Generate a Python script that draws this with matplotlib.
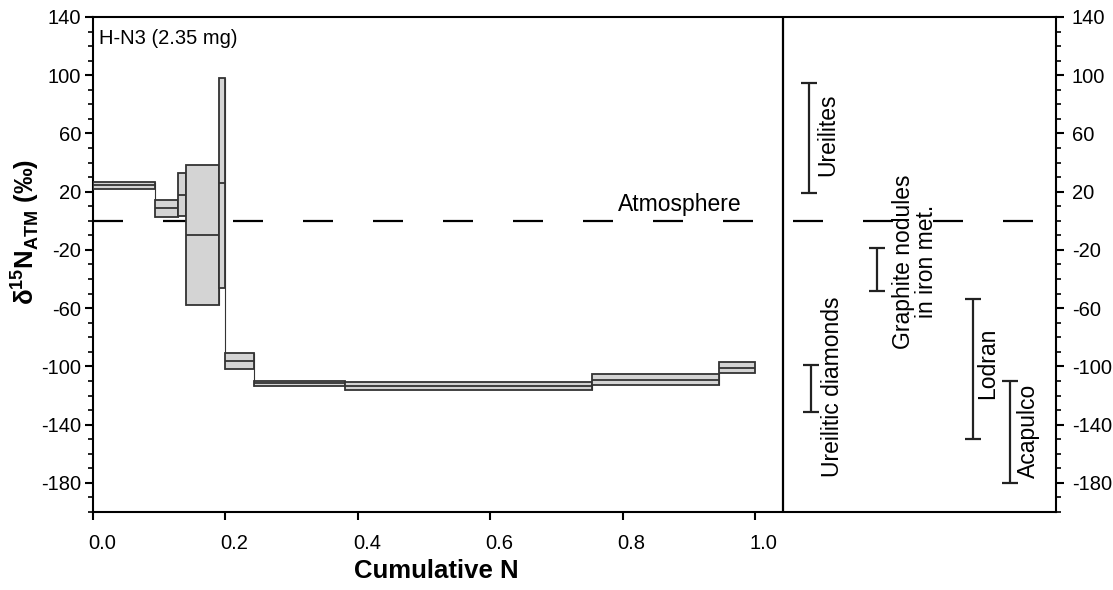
import matplotlib
matplotlib.use('Agg')
import matplotlib.pyplot as plt
import matplotlib.transforms as mtransforms
import numpy as np

plt.rcParams['font.family'] = ['Liberation Sans', 'DejaVu Sans']
plt.rcParams['mathtext.fontset'] = 'custom'
plt.rcParams['mathtext.rm'] = 'Liberation Sans'
plt.rcParams['mathtext.bf'] = 'Liberation Sans:bold'
plt.rcParams['axes.unicode_minus'] = False

# step edges (cumulative N) and d15N of each step
x_edges = [0, 0.093, 0.128, 0.140, 0.191, 0.200, 0.243, 0.381, 0.754, 0.946, 1.0]
d15n = [24.5, 8.5, 18, -10, 26, -96, -111.5, -113.5, -109, -101]
d15n_err = [2.5, 6, 15, 48, 72, 5.5, 1.7, 2.5, 3.5, 3.7]

# reference ranges
groups = ['Ureilites', 'Ureilitic diamonds', 'Graphite nodules\nin iron met.', 'Lodran', 'Acapulco']
grp_lo = [19, -131, -48, -150, -180]
grp_hi = [95, -99, -19, -54, -110]
grp_x = [1.082, 1.085, 1.184, 1.329, 1.386]
lbl_x = [1.110, 1.118, 1.242, 1.352, 1.413]
lbl_y = [59, -114, -28, -98, -144]

fig = plt.figure(figsize=(11.13, 5.9), dpi=100)
ax = fig.add_axes([0.0836, 0.1322, 0.8652, 0.839])

x0 = np.array(x_edges[:-1])
w = np.diff(x_edges)
v = np.array(d15n)
e = np.array(d15n_err)
lo = v - e
hi = v + e

# thin connectors between steps
for i in range(len(v) - 1):
    ax.vlines(x_edges[i + 1], min(lo[i], lo[i + 1]), max(hi[i], hi[i + 1]),
              color='#333333', lw=0.8, zorder=2)

ax.bar(x0, hi - lo, width=w, bottom=lo, align='edge', color='#d4d4d4',
       edgecolor='#333333', linewidth=1.3, zorder=3)
ax.hlines(v, x0, x0 + w, color='#333333', lw=1.3, zorder=4)

# atmosphere
ax.axhline(0, color='black', lw=1.6, ls=(0, (13.5, 18)), zorder=1)
ax.text(0.886, 3, 'Atmosphere', fontsize=16.5, ha='center', va='bottom')

ax.axvline(1.043, color='black', lw=1.6)

for gx, gl, gh in zip(grp_x, grp_lo, grp_hi):
    ax.errorbar(gx, (gl + gh) / 2, yerr=(gh - gl) / 2, fmt='none', ecolor='#222222',
                elinewidth=1.6, capsize=6, capthick=1.6)
for t, tx, ty in zip(groups, lbl_x, lbl_y):
    ax.text(tx, ty, t, rotation=90, fontsize=16.5, ha='center', va='center',
            multialignment='center', linespacing=1.05)

ax.text(0.009, 125, 'H-N3 (2.35 mg)', fontsize=14.5, ha='left', va='center')

ax.set_xlim(0, 1.455)
ax.set_ylim(-200, 140)
ax.set_xticks(np.arange(0, 1.01, 0.2))
ax.set_xticklabels([f'{t:.1f}' for t in np.arange(0, 1.01, 0.2)])
ax.set_yticks(np.arange(-180, 141, 40))
ax.set_yticks(np.arange(-200, 141, 10), minor=True)
ax.tick_params(axis='both', which='major', direction='out', length=5.5, width=1.5, labelsize=14.5)
ax.tick_params(axis='x', which='major', pad=10)
ax.tick_params(axis='y', which='major', pad=3)
ax.tick_params(axis='y', which='minor', direction='out', length=3.5, width=1.2)
ax.tick_params(axis='y', which='both', right=True, labelright=True)
for s in ax.spines.values():
    s.set_linewidth(1.5)

off = mtransforms.ScaledTranslation(0.09, 0, fig.dpi_scale_trans)
for lab in ax.get_xticklabels():
    lab.set_transform(lab.get_transform() + off)
offr = mtransforms.ScaledTranslation(0.04, 0, fig.dpi_scale_trans)
for t in ax.yaxis.get_major_ticks():
    t.label2.set_transform(t.label2.get_transform() + offr)

fig.text(436 / 1113, 1 - 578 / 590, 'Cumulative N', fontsize=18.5, fontweight='bold',
         ha='center', va='baseline')
fig.text(25 / 1113, 1 - 232 / 590, r'δ$^{\mathbf{15}}$N$_{\mathbf{ATM}}$ (‰)', fontsize=18.5,
         fontweight='bold', rotation=90, ha='center', va='center')

fig.savefig('out.png', dpi=100)
